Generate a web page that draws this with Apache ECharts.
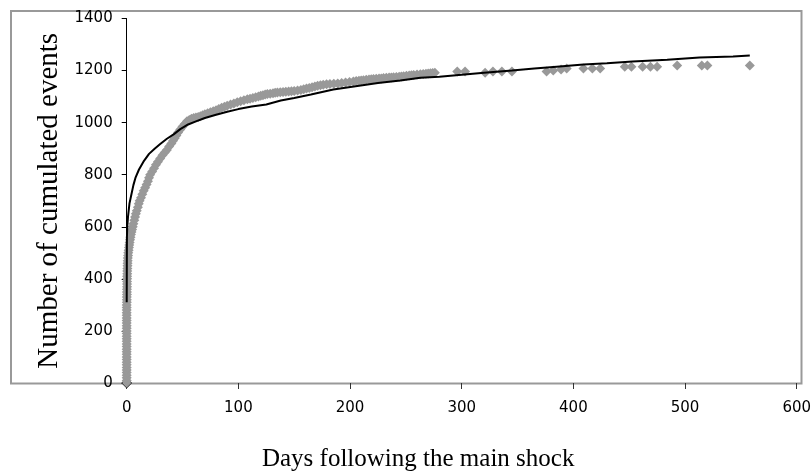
<!DOCTYPE html>
<html>
<head>
<meta charset="utf-8">
<script src="https://cdn.jsdelivr.net/npm/echarts@6/dist/echarts.min.js"></script>
<style>html,body{margin:0;padding:0;background:#fff}#c{width:812px;height:472px}</style>
</head>
<body>
<div id="c"></div>
<script>
// Observed cumulative events (gray diamonds): day after main shock
const grayDays = [
  0,0,0,0,0,0,0,0,0,0,0,0,0,0,0,0,0,0,0,0,0,0,0,0,0,0,0,0,0,0,0,
  0.1,0.1,0.1,0.2,0.2,0.2,0.3,0.3,0.3,0.4,0.4,0.5,0.5,0.6,0.7,0.8,0.9,1,1.2,1.4,1.7,2,2.3,2.6,3,3.4,3.8,4.3,4.8,5.4,
  6,6.8,7.5,8.2,9,10,10.8,11.6,12.8,14,15.2,16.5,17.8,19,20,21,22.8,24.5,26.2,28,30,32,34,36,38,40,41.5,43,44.5,46,48,50,52,54,56,58,
  60,62,64,66,68,70,72.5,75,77.5,80,82.5,85,87.5,90,93,96,99,102,105,108,110.5,113,115.5,118,120,122,124,126,128.5,131,133,135,137.5,140,142.5,145,147.5,150,153,156,158.5,161,163.5,166,168.5,171,173.5,176,179,182,185.5,189,192.5,196,199.5,203,205.5,208,210,212,214.5,217,219,221,223.5,226,228,230,232.5,235,237,239,241.5,244,246,248,250.5,253,255,257,260,263,265.5,268,270,272,274,276,
  296,303,321,328,336,345,376,382,389,394,409,417,424,446,452,462,469,475,493,515,520,558];
// Observed cumulative events (gray diamonds): cumulated count
const grayCounts = [
  0,10,20,30,40,50,60,70,80,90,100,110,120,130,140,150,160,170,180,190,200,210,220,230,240,250,260,270,280,290,300,
  310,320,330,340,350,360,370,380,390,400,410,420,430,440,450,460,470,480,490,500,510,520,530,540,550,560,570,580,590,600,
  612,625,638,650,662,675,688,700,712,725,738,750,762,775,788,800,812,825,838,850,862,875,885,895,908,920,930,940,951,962,974,985,995,1005,1010,1015,
  1018,1020,1022,1025,1028,1032,1036,1040,1044,1048,1052,1057,1061,1065,1070,1074,1078,1082,1086,1090,1092,1095,1098,1100,1103,1105,1108,1110,1111,1113,1115,1116,1117,1118,1119,1120,1121,1122,1123,1125,1128,1131,1133,1136,1139,1142,1144,1146,1147,1148,1149,1150,1152,1154,1156,1158,1160,1161,1162,1163,1165,1166,1167,1168,1169,1170,1170,1171,1172,1173,1173,1174,1175,1176,1177,1178,1180,1181,1182,1183,1185,1186,1187,1188,1189,1190,1191,1192,
  1196,1196,1192,1196,1196,1196,1196,1200,1204,1208,1208,1208,1208,1215,1215,1215,1215,1215,1219,1219,1219,1219];
// Model curve (black line)
const lineDays = [0,0.1,0.2,0.5,1.2,2.5,4,6,8,11,15,20,25,30,36,42,48,55,62,70,80,90,100,112,125,138,150,165,185,205,225,245,263,280,300,320,345,365,385,409,430,453,484,513,543,558];
const lineCounts = [310,450,560,600,640,690,720,760,790,820,850,880,900,918,938,955,975,993,1005,1018,1030,1042,1052,1062,1070,1085,1095,1108,1127,1140,1152,1162,1172,1176,1184,1192,1200,1208,1215,1223,1228,1235,1242,1250,1254,1258];
const xTicks = {min: 0, max: 600, step: 100};
const yTicks = {min: 0, max: 1400, step: 200};
const xTitle = 'Days following the main shock';
const yTitle = 'Number of cumulated events';

const scatterData = grayDays.map((d, i) => i === 0
  ? {value: [d, grayCounts[i]], itemStyle: {color: '#999', borderColor: '#333', borderWidth: 1}}
  : [d, grayCounts[i]]);
const lineData = lineDays.map((d, i) => [d, lineCounts[i]]);

const chart = echarts.init(document.getElementById('c'), null, {renderer: 'canvas'});
chart.setOption({
  animation: false,
  backgroundColor: '#fff',
  grid: [
    {left: 126.7, right: 15.3, top: 18.5, bottom: 89, show: false, containLabel: false, outerBoundsMode: 'none'},
    {left: 11, right: 10.5, top: 11, bottom: 88.5, show: true, borderColor: '#999', borderWidth: 2, backgroundColor: 'transparent', containLabel: false, outerBoundsMode: 'none'}
  ],
  xAxis: [
    {
      type: 'value', gridIndex: 0, min: xTicks.min, max: xTicks.max, interval: xTicks.step,
      axisLine: {show: false},
      axisTick: {show: true, length: 6, lineStyle: {color: '#333'}},
      axisLabel: {margin: 18, fontFamily: 'DejaVu Sans', fontSize: 15, color: '#000', formatter: v => String(v)},
      splitLine: {show: false},
      name: xTitle, nameLocation: 'middle', nameGap: 64,
      nameTextStyle: {fontFamily: 'Liberation Serif', fontSize: 25, color: '#000', padding: [0, 87, 0, 0]}
    },
    {type: 'value', gridIndex: 1, show: false, min: 0, max: 1}
  ],
  yAxis: [
    {
      type: 'value', gridIndex: 0, min: yTicks.min, max: yTicks.max, interval: yTicks.step,
      axisLine: {show: true, lineStyle: {color: '#000', width: 1}},
      axisTick: {show: true, length: 5, lineStyle: {color: '#000'}},
      axisLabel: {margin: 14, fontFamily: 'DejaVu Sans', fontSize: 15, color: '#000', formatter: v => String(v)},
      splitLine: {show: false},
      name: yTitle, nameLocation: 'middle', nameGap: 52, nameRotate: 90,
      nameTextStyle: {fontFamily: 'Liberation Serif', fontSize: 29, color: '#000'}
    },
    {type: 'value', gridIndex: 1, show: false, min: 0, max: 1}
  ],
  series: [
    {
      type: 'scatter', xAxisIndex: 0, yAxisIndex: 0,
      symbol: 'diamond', symbolSize: 10,
      itemStyle: {color: '#999', opacity: 1},
      data: scatterData
    },
    {
      type: 'line', xAxisIndex: 0, yAxisIndex: 0,
      showSymbol: false, symbol: 'none',
      lineStyle: {color: '#000', width: 2},
      data: lineData
    }
  ]
});
</script>
</body>
</html>
